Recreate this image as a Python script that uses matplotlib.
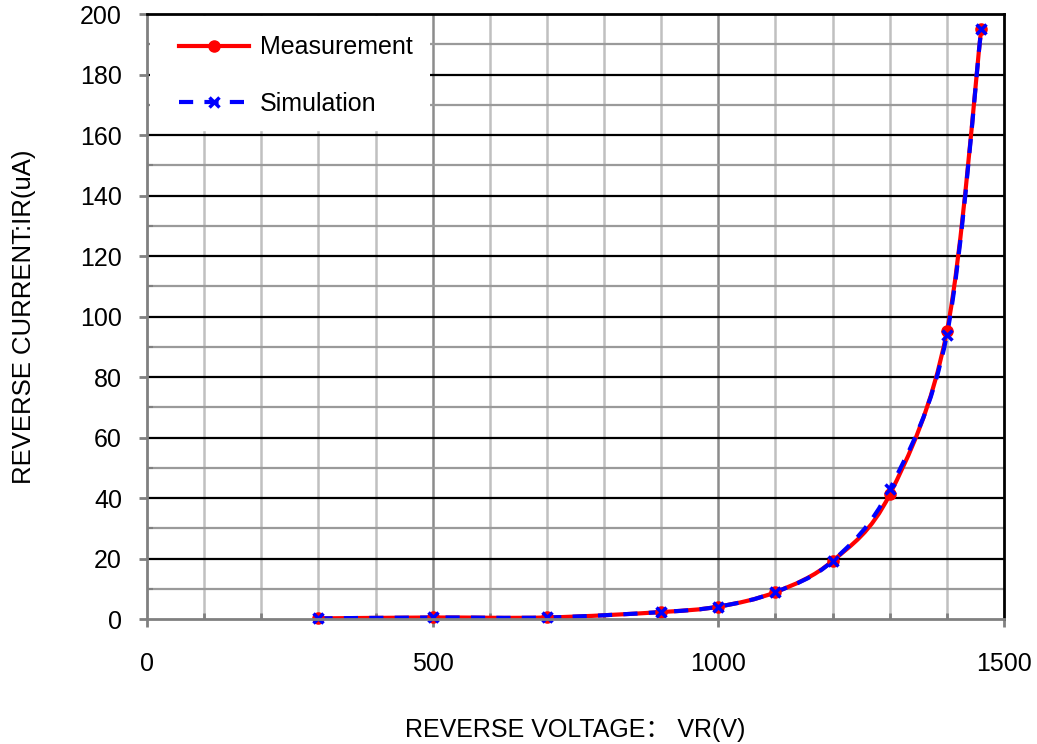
import matplotlib
matplotlib.use("Agg")
import matplotlib.pyplot as plt
import numpy as np
from matplotlib.path import Path
from matplotlib.patches import PathPatch, Rectangle
from matplotlib.lines import Line2D

plt.rcParams['font.family'] = ['Liberation Sans', 'Noto Sans CJK SC', 'DejaVu Sans']

# Data
voltage = [300, 500, 700, 900, 1000, 1100, 1200, 1300, 1400, 1460]
measurement = [0.2, 0.5, 0.5, 2.3, 4.1, 8.9, 19.2, 41.2, 95.1, 195]
simulation = [0.2, 0.5, 0.5, 2.3, 4.1, 8.9, 19.2, 42.9, 94.0, 195]

x_ticks = [0, 500, 1000, 1500]
y_ticks = list(range(0, 201, 20))
legend_labels = ["Measurement", "Simulation"]

fig = plt.figure(figsize=(10.37, 7.44), dpi=100)
ax = fig.add_axes([0.1418, 0.168, 0.9682 - 0.1418, 0.981 - 0.168])
ax.set_xlim(0, 1500)
ax.set_ylim(0, 200)


def smooth_path(xs, ys, ax):
    # Excel-like smoothed line rendered as cubic Bezier segments in display space
    pts = ax.transData.transform(np.column_stack([xs, ys]))
    n = len(pts)
    verts = [pts[0]]
    codes = [Path.MOVETO]
    for i in range(n - 1):
        p0 = pts[i - 1] if i > 0 else pts[i]
        p1 = pts[i]
        p2 = pts[i + 1]
        p3 = pts[i + 2] if i + 2 < n else pts[i + 1]
        c1 = p1 + (p2 - p0) / 6.0
        c2 = p2 - (p3 - p1) / 6.0
        verts += [c1, c2, p2]
        codes += [Path.CURVE4] * 3
    return Path(verts, codes)


# grid
for xv in range(100, 1500, 100):
    col = '#8c8c8c' if xv % 500 == 0 else '#c0c0c0'
    ax.axvline(xv, color=col, lw=1.8, zorder=1)
for yv in range(10, 200, 10):
    col = '#000000' if yv % 20 == 0 else '#9a9a9a'
    ax.axhline(yv, color=col, lw=1.6, zorder=1)

# white legend background area
ax.add_patch(Rectangle((0.0035, 0.817), 0.327, 0.18, transform=ax.transAxes,
                       facecolor='white', edgecolor='none', zorder=2))

DASH = (0, (3.4, 2.7))
LW = 3.0

fig.canvas.draw()
red_path = smooth_path(voltage, measurement, ax)
blue_path = smooth_path(voltage, simulation, ax)
ax.add_patch(PathPatch(red_path, transform=None, fill=False, edgecolor='#ff0000',
                       lw=LW, zorder=3, capstyle='round'))
ax.add_patch(PathPatch(blue_path, transform=None, fill=False, edgecolor='#0000ff',
                       lw=LW, zorder=4, linestyle=DASH))
ax.plot(voltage, measurement, linestyle='none', marker='o', ms=8, color='#ff0000',
        zorder=5, clip_on=False)
ax.plot(voltage, simulation, linestyle='none', marker='x', ms=7, mew=2.5, color='#0000ff',
        zorder=6, clip_on=False)

# spines
ax.spines['left'].set_color('#808080')
ax.spines['bottom'].set_color('#808080')
ax.spines['top'].set_color('#000000')
ax.spines['right'].set_color('#000000')
for s in ax.spines.values():
    s.set_linewidth(2)
    s.set_zorder(7)

ax.set_xticks(x_ticks)
ax.set_yticks(y_ticks)
ax.set_xticks(range(0, 1501, 100), minor=True)
ax.set_yticks(range(0, 201, 10), minor=True)
ax.tick_params(axis='x', which='major', direction='out', length=6, width=2,
               color='#808080', pad=18, labelsize=18)
ax.tick_params(axis='x', which='minor', direction='in', length=4.5, width=2, color='#808080')
ax.tick_params(axis='y', which='major', direction='out', length=6, width=2,
               color='#808080', pad=12, labelsize=18)
ax.tick_params(axis='y', which='minor', direction='in', length=4.5, width=1.5,
               color='#808080')

ax.set_xlabel("REVERSE VOLTAGE\uff1a VR(V)", fontsize=18, labelpad=30)
ax.set_ylabel("REVERSE CURRENT:IR(uA)", fontsize=18.5, labelpad=32)

handles = [
    Line2D([], [], color='#ff0000', lw=LW, marker='o', ms=8),
    Line2D([], [], color='#0000ff', lw=LW, marker='x', ms=7, mew=2.5, linestyle=DASH),
]
leg = ax.legend(handles, legend_labels, loc='upper left', bbox_to_anchor=(0.012, 1.0),
                fontsize=18, frameon=True, fancybox=False, handlelength=2.8,
                labelspacing=1.3, borderpad=0.55, handletextpad=0.45, borderaxespad=0.3)
leg.get_frame().set_edgecolor('white')
leg.get_frame().set_facecolor('white')
leg.get_frame().set_alpha(1)
leg.set_zorder(8)

fig.savefig("out.png", dpi=100)
